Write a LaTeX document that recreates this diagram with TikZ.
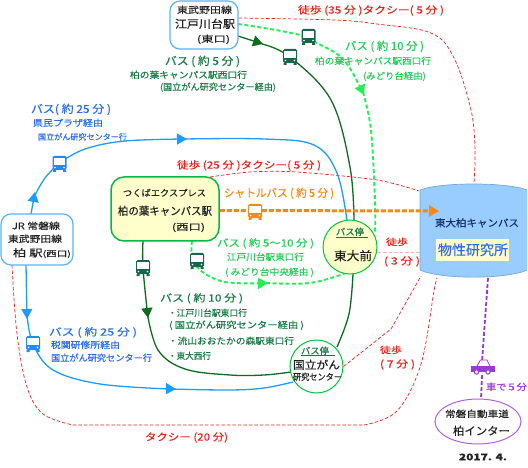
\documentclass[tikz,border=0pt]{standalone}
\usepackage{fontspec}
\setmainfont[FakeBold=0.35]{Noto Sans CJK JP}
\usetikzlibrary{arrows.meta,shapes.geometric,backgrounds}
\definecolor{cblue}{HTML}{1E9BFF}
\definecolor{tblue}{HTML}{2A6BEF}
\definecolor{cdg}{HTML}{0F6B1F}
\definecolor{tdg}{HTML}{1A7A45}
\definecolor{busdg}{HTML}{17664A}
\definecolor{cgr}{HTML}{22EE55}
\definecolor{tgr}{HTML}{22CC55}
\definecolor{cor}{HTML}{F58A10}
\definecolor{cred}{HTML}{F02018}
\definecolor{cpink}{HTML}{F8B8B0}
\definecolor{cpur}{HTML}{9A38D8}
\definecolor{cyl}{HTML}{99CCFF}
\definecolor{cyledge}{HTML}{6FA8DC}
\definecolor{yel}{HTML}{FFFFCC}
\definecolor{navy}{HTML}{12306A}
\definecolor{txt}{HTML}{222222}
\newsavebox\lbbox
\newlength\lbw
% name, colour, left, right, y-centre, size, text
\newcommand\lb[7]{%
  \pgfmathsetmacro\lbx{(#3+#4)/2}%
  \pgfmathsetmacro\lby{#5+0.36*#6}%
  \node[anchor=base,inner sep=0pt,outer sep=0pt] (#1) at (\lbx,\lby) {%
    \sbox\lbbox{\normalfont\fontsize{#6}{#6}\selectfont\color{#2}#7}%
    \setlength\lbw{\wd\lbbox}%
    \pgfmathsetmacro\lbsx{(#4-#3)/\lbw}%
    \scalebox{\lbsx}[1]{\usebox\lbbox}};}
\tikzset{x=1pt,y=-1pt,
 redline/.style={cred,dash pattern=on 3.5pt off 2pt,line width=.7pt},
 route/.style={line width=1.3pt},
 greenroute/.style={cgr,line width=1.9pt,dash pattern=on 4pt off 2.5pt},
 bigtip/.style={-{Triangle[length=10pt,width=11pt]}},
 plate/.style={draw=#1,fill=white,rounded corners=10pt,line width=1.2pt},
 stopdisc/.style={circle,draw=#1,line width=1pt,inner sep=0pt},
 busicon/.pic={
   \fill[pic actions,rounded corners=1.5pt] (-7,-8) rectangle (7,6);
   \fill[white] (-5.6,-6) rectangle (5.6,1);
   \fill[white] (-4.5,3.5) circle (.9) (4.5,3.5) circle (.9);
   \fill[pic actions] (-6.5,6) rectangle (-3.5,8) (3.5,6) rectangle (6.5,8);
 },
 caricon/.pic={
   \fill[pic actions] (-12,-1) rectangle (11,4);
   \draw[pic actions,fill=none,line width=.8pt] (-6,-1) -- (-2.5,-7) -- (4,-7) -- (7,-1);
   \draw[pic actions,fill=white,line width=1pt] (-6.5,5) circle (2.2) (5,5) circle (2.2);
 }}
\begin{document}
\begin{tikzpicture}
\useasboundingbox (0,0) rectangle (528,468);
% ---- places ----
\node[plate=cblue!75!white,minimum width=68pt,minimum height=48pt] (edo) at (204,25) {};
\node[plate=cblue!75!white,minimum width=72pt,minimum height=51pt] (jr) at (37,239.5) {};
\node[draw=green!45!teal,fill=yel,rounded corners=13pt,line width=1.5pt,minimum width=108pt,minimum height=64pt] (tx) at (165,209) {};
\node[stopdisc=green!55!teal,fill=yel,minimum size=54pt] (todai) at (350,247) {};
\node[stopdisc=green!55!teal,fill=white,minimum size=53pt] (ncc) at (316.5,366.5) {};
\node[ellipse,draw=cpur!80!white,fill=white,line width=1pt,minimum width=86pt,minimum height=45pt,inner sep=0pt] (ic) at (478,421.5) {};
\node[inner sep=0pt,minimum width=107pt,minimum height=95pt] (campus) at (473.5,230.5) {};
\fill[cyl] (420,190) .. controls (440,182) and (507,182) .. (527,190) -- (527,270) .. controls (507,279.5) and (440,279.5) .. (420,270) -- cycle;
\draw[cyledge,line width=.7pt] (420,270) .. controls (440,279.5) and (507,279.5) .. (527,270);
\draw[cyledge,line width=.7pt] (527,190) .. controls (507,182) and (440,182) .. (420,190) -- (420,270);
\coordinate (rA) at (238,18);
% ---- connectors, under the places ----
\begin{scope}[on background layer]
\draw[redline] plot[smooth,tension=.6] coordinates {(edo.east |- rA) (334,20) (377,24) (431,33) (454,58) (471,110) (475,150) (474,183)};
\draw[redline] plot[smooth,tension=.5] coordinates {(210,177) (250,172) (297,172) (377,180) (419,191)};
\draw[redline] plot[smooth,tension=.6] coordinates {(12,265) (17,334) (27,387) (43,414) (73,425)} -- (364,425) plot[smooth,tension=.6] coordinates {(364,425) (397,411) (421,364) (434,291) (437,278)};
\draw[redline,cpink] (todai.east |- 0,252) -- (campus.west |- 0,252);
\draw[redline] (ncc.east) -- (391,329) -- (421,276);
% blue, upper
\draw[route,cblue,bigtip] plot[smooth,tension=.6] coordinates {(31,214) (35,192)};
\draw[route,cblue] plot[smooth,tension=.6] coordinates {(35,195) (45,178) (59,163)};
\draw[route,cblue,bigtip] plot[smooth,tension=.6] coordinates {(59,163) (85,149) (125,141) (187,139)};
\draw[route,cblue] plot[smooth,tension=.6] coordinates {(185,139) (264,139) (314,145) (337,173) (347,221)};
% blue, lower
\draw[route,cblue,bigtip] plot[smooth,tension=.6] coordinates {(26,265) (27,319)};
\draw[route,cblue] plot[smooth,tension=.6] coordinates {(27,315) (33,344) (53,370) (100,384) (170,389)};
\draw[route,cblue,bigtip] (165,388.6) -- (176,389);
\draw[route,cblue] plot[smooth,tension=.6] coordinates {(170,389) (230,390) (264,388) (293,382)};
% dark green, from Edogawadai
\draw[route,cdg,bigtip] (238,36) -- (263,44);
\draw[route,cdg] plot[smooth,tension=.6] coordinates {(262,44) (290,57) (331,100) (350,167) (354,221)};
\draw[route,cdg] plot[smooth,tension=.6] coordinates {(353,274) (349,314) (337,347)};
% dark green, from Kashiwanoha
\draw[route,cdg,bigtip] plot[smooth,tension=.6] coordinates {(143,241) (143,268) (148,318)};
\draw[route,cdg] plot[smooth,tension=.6] coordinates {(147,312) (158,350) (185,369) (230,375) (264,375) (291,372)};
% green dashed
\draw[greenroute,bigtip] plot[smooth,tension=.6] coordinates {(238,24) (264,28) (300,35) (317,43) (344,60) (364,95)};
\draw[greenroute] plot[smooth,tension=.6] coordinates {(363,92) (371,130) (375,200) (375,233)};
\draw[greenroute,bigtip] plot[smooth,tension=.6] coordinates {(192,241) (192,255) (200,270) (225,282) (268,283)};
\draw[greenroute] plot[smooth,tension=.6] coordinates {(266,283) (310,283) (346,273)};
% purple
\draw[cpur,line width=1.8pt,dash pattern=on 4pt off 2pt] (488,278) -- (482,362);
\draw[cpur,line width=1.8pt,dash pattern=on 4pt off 2pt] (482,375) -- (481,399);
\end{scope}
% orange shuttle
\draw[cor,line width=3pt,dash pattern=on 5pt off 2pt,-{Triangle[length=10pt,width=11pt]}] (tx.east |- 0,210.5) -- (439,211);
% ---- vehicles ----
\pic[fill=cblue!60!tblue] (bA) at (59.5,164) {busicon};
\pic[fill=cblue!60!tblue] (bB) at (33,344) {busicon};
\pic[fill=busdg] (bC) at (290,57) {busicon};
\pic[fill=busdg] (bD) at (308.5,37) {busicon};
\pic[fill=busdg] (bE) at (143,268) {busicon};
\pic[fill=busdg] (bF) at (197,261) {busicon};
\pic[fill=cor] (bG) at (255,212) {busicon};
\pic[fill=cpur,draw=cpur] (car) at (483,367) {caricon};
% ---- labels ----
\lb{a1}{txt}{177}{232}{10}{9}{東武野田線}
\lb{a2}{txt}{175}{235}{24}{11}{江戸川台駅}
\lb{a3}{txt}{197}{230}{39}{9}{(東口)}
\lb{b1}{tdg}{165}{240}{61}{11}{バス ( 約 5 分 )}
\lb{b2}{tdg}{130}{247}{75}{9}{柏の葉キャンパス駅西口行}
\lb{b3}{tdg}{160}{276}{87}{9}{(国立がん研究センター経由)}
\lb{c1}{tblue}{31}{111}{109}{11}{バス( 約 25 分 )}
\lb{c2}{tblue}{33}{103}{123}{9}{県民プラザ経由}
\lb{c3}{tblue}{38}{127}{137}{8}{国立がん研究センター行}
\lb{d1}{cred}{298}{444}{10}{10}{徒歩 (35 分 )タクシー( 5 分 )}
\lb{e1}{tgr}{345}{424}{46}{11}{バス ( 約 10 分 )}
\lb{e2}{tgr}{315}{431}{61}{9}{柏の葉キャンパス駅西口行}
\lb{e3}{tgr}{363}{426}{76}{9}{(みどり台経由)}
\lb{f1}{cred}{177}{321}{165}{10}{徒歩 (25 分 )タクシー( 5 分 )}
\lb{g1}{cor}{224}{334}{193}{11}{シャトルバス ( 約 5 分 )}
\lb{h1}{txt}{123}{206}{193}{9}{つくばエクスプレス}
\lb{h2}{txt}{118}{212}{211}{11}{柏の葉キャンパス駅}
\lb{h3}{txt}{172}{205}{227}{9}{(西口)}
\lb{i1}{tgr}{217}{314}{243}{10}{バス ( 約 5～10 分 )}
\lb{i2}{tgr}{227}{304}{257}{9}{江戸川台駅東口行}
\lb{i3}{tgr}{225}{314}{272}{9}{( みどり台中央経由 )}
\lb{j1}{txt}{12}{60}{226}{9}{JR 常磐線}
\lb{j2}{txt}{8}{62}{239}{9}{東武野田線}
\lb{j3}{txt}{13}{71}{253}{10}{柏 駅{\fontsize{8}{8}\selectfont(西口)}}
\lb{k1}{tdg}{160}{243}{298}{10}{バス ( 約 10 分 )}
\lb{k2}{tdg}{168}{247}{313}{9}{・江戸川台駅東口行}
\lb{k3}{tdg}{169}{304}{325}{9}{( 国立がん研究センター経由 )}
\lb{k4}{tdg}{168}{294}{341}{9}{・流山おおたかの森駅東口行}
\lb{k5}{tdg}{168}{211}{356}{9}{・東大西行}
\lb{l1}{tblue}{49}{137}{332}{10}{バス ( 約 25 分 )}
\lb{l2}{tblue}{51}{120}{345}{9}{税関研修所経由}
\lb{l3}{tblue}{51}{152}{358}{9}{国立がん研究センター行}
\lb{m1}{cred}{145}{228}{437}{10}{タクシー (20 分)}
\lb{n1}{cred}{386}{408}{242}{9}{徒歩}
\lb{n2}{cred}{384}{420}{261}{10}{( 3 分 )}
\lb{o1}{cred}{380}{402}{350}{9}{徒歩}
\lb{o2}{cred}{380}{415}{364}{10}{( 7 分 )}
\lb{p1}{navy}{435}{519}{223}{10}{東大柏キャンパス}
\fill[yel] (436,239) rectangle (509,261);
\lb{p2}{tblue}{438}{508}{250}{14}{物性研究所}
\lb{q1}{cpur}{486}{527}{387}{9}{車で５分}
\lb{r1}{txt}{445}{509}{414}{9}{常磐自動車道}
\lb{r2}{txt}{453}{510}{431}{11}{柏インター}
\lb{s1}{tdg}{336}{364}{232}{9}{バス停}
\draw[tdg,line width=.6pt] (s1.south west |- 0,237) -- (368,237);
\lb{s2}{txt}{334}{372}{256}{12}{東大前}
\lb{t1}{tdg}{301}{329}{351}{9}{バス停}
\draw[tdg,line width=.6pt] (t1.south west |- 0,355) -- (335,355);
\lb{t2}{txt}{293}{340}{365}{11}{国立がん}
\lb{t3}{txt}{293}{342}{377}{9}{研究センター}
\lb{u1}{txt}{459}{507}{457}{9}{\bfseries 2017. 4.}
\end{tikzpicture}
\end{document}
